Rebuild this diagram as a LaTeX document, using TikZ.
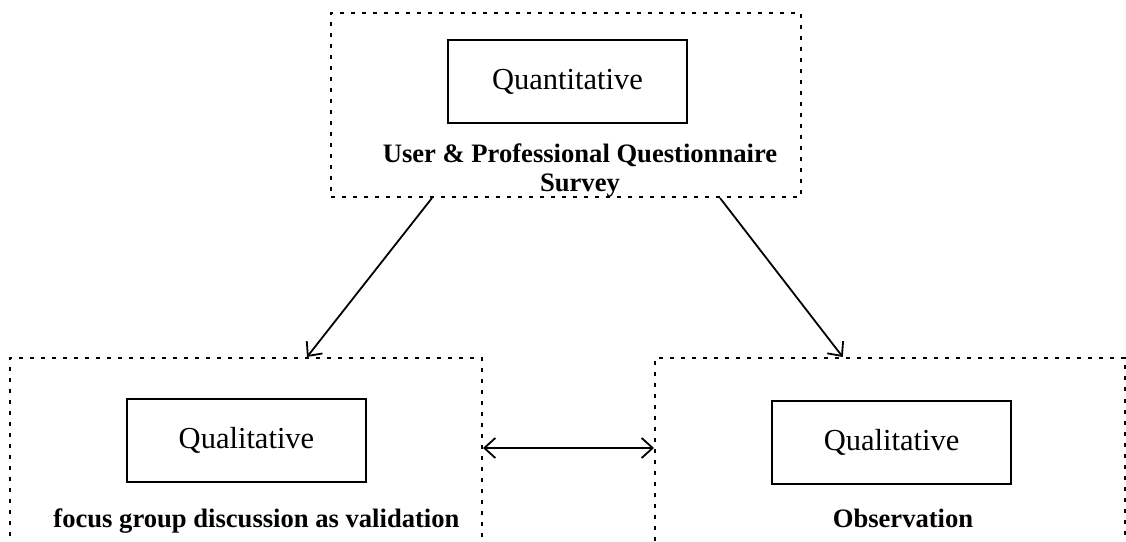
\documentclass[tikz,border=0pt]{standalone}
\usepackage{fontspec}
\setmainfont{Liberation Serif}
\usetikzlibrary{arrows.meta}
\begin{document}
\begin{tikzpicture}[x=1bp,y=-1bp,
  group/.style={draw, line width=2bp, dash pattern=on 4bp off 7bp, rectangle, inner sep=0pt},
  method/.style={draw, line width=1.6bp, rectangle, inner sep=0pt,
    minimum width=239bp, minimum height=83bp,
    font=\fontsize{30.5bp}{36bp}\selectfont},
  caption/.style={font=\bfseries\fontsize{26.6bp}{29bp}\selectfont, align=center, inner sep=0pt},
  barb/.tip={Straight Barb[length=11bp,width=20bp,line width=1.8bp]},
  link/.style={line width=1.8bp},
]
\useasboundingbox (0,0) rectangle (1126,542);
\clip (0,0) rectangle (1126,542);

% outer dotted groups
\node[group, minimum width=470bp, minimum height=184bp] (survey) at (566,105) {};
\node[group, minimum width=472bp, minimum height=202bp] (focus) at (246,459) {};
\node[group, minimum width=469.5bp, minimum height=202bp] (observe) at (889.75,459) {};

% method boxes
\node[method] (quant) at (567.5,81.5) {Quantitative};
\node[method] (qualL) at (246.5,440.5) {Qualitative};
\node[method] (qualR) at (891.5,442.5) {Qualitative};

% captions
\node[caption] (surveytxt) at (580,171) {User \& Professional Questionnaire\\Survey};
\node[caption, anchor=base] (focustxt) at (256.5,527) {focus group discussion as validation};
\node[caption, anchor=base] (observetxt) at (903,527) {Observation};

% connectors
\draw[link, -barb] ([xshift=-134bp]survey.south) -- ([xshift=61bp]focus.north);
\draw[link, -barb] ([xshift=154bp]survey.south) -- ([xshift=-47bp]observe.north);
\draw[link, barb-barb] (focus.east |- 0,448) -- (observe.west |- 0,448);
\end{tikzpicture}
\end{document}
